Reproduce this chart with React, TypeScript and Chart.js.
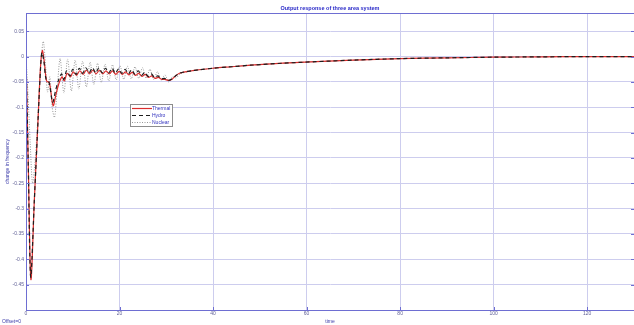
import { useEffect, useRef } from "react";
import { Chart, registerables } from "chart.js";

Chart.register(...registerables);

const chartTitle = "Output response of three area system";
const xLabel = "time";
const yLabel = "change in frequency";
const offsetNote = "Offset=0";

const xTicks = [0, 20, 40, 60, 80, 100, 120];
const yTicks = [0.05, 0, -0.05, -0.1, -0.15, -0.2, -0.25, -0.3, -0.35, -0.4, -0.45];
const xMin = 0;
const xMax = 130;
const yMin = -0.5;
const yMax = 0.086;

const thermalTime = [
  0, 0.5, 1.05, 1.8, 2.6, 3.1, 3.5, 3.9, 4.4, 5.0, 5.8, 6.4, 7.0, 7.7, 8.2, 8.8, 9.5, 10.1, 10.8, 11.5,
  12.2, 12.9, 13.6, 14.3, 15.0, 15.7, 16.4, 17.1, 17.8, 18.5, 19.2, 19.9, 20.6, 21.3, 22.0, 22.7, 23.4,
  24.1, 24.8, 25.5, 26.2, 26.9, 27.6, 28.3, 29.0, 29.7, 30.5, 31.3, 32.0, 32.8, 34, 35.5, 37, 40, 44, 48,
  55, 62, 70, 80, 90, 100, 110, 120, 130,
];
const thermalValue = [
  0, -0.22, -0.44, -0.28, -0.12, -0.02, 0.012, -0.01, -0.048, -0.052, -0.097, -0.075, -0.054, -0.04,
  -0.048, -0.033, -0.04, -0.03, -0.037, -0.028, -0.035, -0.027, -0.034, -0.027, -0.034, -0.027, -0.034,
  -0.028, -0.034, -0.028, -0.035, -0.029, -0.035, -0.03, -0.036, -0.031, -0.037, -0.033, -0.039, -0.035,
  -0.041, -0.038, -0.043, -0.041, -0.045, -0.045, -0.047, -0.044, -0.038, -0.033, -0.03, -0.028, -0.026,
  -0.023, -0.02, -0.017, -0.013, -0.01, -0.007, -0.004, -0.0025, -0.0012, -0.0005, 0, 0,
];

const hydroTime = [
  0, 0.5, 1.0, 1.8, 2.6, 3.1, 3.4, 3.8, 4.3, 4.9, 5.7, 6.3, 6.9, 7.6, 8.1, 8.7, 9.4, 10.0, 10.7, 11.4,
  12.1, 12.8, 13.5, 14.2, 14.9, 15.6, 16.3, 17.0, 17.7, 18.4, 19.1, 19.8, 20.5, 21.2, 21.9, 22.6, 23.3,
  24.0, 24.7, 25.4, 26.1, 26.8, 27.5, 28.2, 28.9, 29.6, 30.4, 31.2, 32.0, 32.8, 34, 35.5, 37, 40, 44, 48,
  55, 62, 70, 80, 90, 100, 110, 120, 130,
];
const hydroValue = [
  0, -0.22, -0.435, -0.28, -0.12, -0.025, 0.008, -0.008, -0.045, -0.05, -0.09, -0.068, -0.048, -0.034,
  -0.045, -0.028, -0.038, -0.025, -0.035, -0.023, -0.033, -0.022, -0.032, -0.022, -0.032, -0.022, -0.032,
  -0.023, -0.032, -0.023, -0.033, -0.024, -0.033, -0.025, -0.034, -0.026, -0.035, -0.028, -0.037, -0.031,
  -0.039, -0.034, -0.041, -0.038, -0.044, -0.043, -0.047, -0.044, -0.038, -0.033, -0.03, -0.028, -0.026,
  -0.023, -0.02, -0.017, -0.013, -0.01, -0.007, -0.004, -0.0025, -0.0012, -0.0005, 0, 0,
];

const nuclearTime = [
  0, 0.4, 0.9, 1.4, 2.0, 2.6, 3.2, 3.7, 4.2, 4.6, 5.1, 5.6, 6.1, 6.7, 7.3, 8.1, 8.9, 9.7, 10.5, 11.3,
  12.1, 12.9, 13.7, 14.5, 15.3, 16.1, 16.9, 17.7, 18.5, 19.3, 20.1, 20.9, 21.7, 22.5, 23.3, 24.1, 24.9,
  25.7, 26.5, 27.3, 28.1, 28.9, 29.7, 30.5, 31.3, 32.1, 33, 35, 37, 40, 44, 48, 55, 62, 70, 80, 90, 100,
  110, 120, 130,
];
const nuclearValue = [
  0, -0.07, -0.17, -0.25, -0.2, -0.11, -0.01, 0.03, -0.02, -0.07, -0.04, -0.1, -0.12, -0.06, -0.004,
  -0.072, -0.005, -0.068, -0.007, -0.064, -0.009, -0.06, -0.011, -0.055, -0.013, -0.051, -0.015, -0.048,
  -0.016, -0.046, -0.018, -0.045, -0.019, -0.044, -0.02, -0.043, -0.022, -0.043, -0.025, -0.045, -0.03,
  -0.047, -0.036, -0.05, -0.04, -0.042, -0.034, -0.029, -0.026, -0.023, -0.02, -0.017, -0.013, -0.01,
  -0.007, -0.004, -0.0025, -0.0012, -0.0005, 0, 0,
];

const seriesNames = ["Thermal", "Hydro", "Nuclear"];

const BLUE = "rgb(40,40,200)";
const AXIS = "rgb(110,110,210)";
const GRID = "rgb(205,205,238)";
const TICK_TXT = "rgb(95,95,150)";

const toPoints = (t: number[], v: number[]) => t.map((x, i) => ({ x, y: v[i] }));

const extrasPlugin = {
  id: "extras",
  afterDraw(chart: any) {
    const { ctx, chartArea } = chart;
    const { left, top, right, bottom } = chartArea;
    ctx.save();
    // frame
    ctx.strokeStyle = AXIS;
    ctx.lineWidth = 1;
    ctx.strokeRect(left + 0.5, top + 0.5, right - left, bottom - top);
    // small inner ticks
    const xs = chart.scales.x;
    const ys = chart.scales.y;
    ctx.beginPath();
    xTicks.forEach((v) => {
      const px = Math.round(xs.getPixelForValue(v)) + 0.5;
      ctx.moveTo(px, bottom);
      ctx.lineTo(px, bottom - 3);
    });
    yTicks.forEach((v) => {
      const py = Math.round(ys.getPixelForValue(v)) + 0.5;
      ctx.moveTo(left, py);
      ctx.lineTo(left + 3, py);
      ctx.moveTo(right, py);
      ctx.lineTo(right - 3, py);
    });
    ctx.stroke();

    // title
    ctx.fillStyle = BLUE;
    ctx.font = "bold 5.5px Arial, 'Liberation Sans', sans-serif";
    ctx.textAlign = "center";
    ctx.textBaseline = "middle";
    ctx.fillText(chartTitle, (left + right) / 2, 8);

    // offset note
    ctx.fillStyle = "rgb(60,60,170)";
    ctx.font = "5px Arial, 'Liberation Sans', sans-serif";
    ctx.textAlign = "left";
    ctx.fillText(offsetNote, 2, 321.5);

    // legend
    const bx = 130;
    const by = 104;
    const bw = 42;
    const bh = 22;
    ctx.fillStyle = "#ffffff";
    ctx.fillRect(bx, by, bw, bh);
    ctx.strokeStyle = "rgb(140,140,140)";
    ctx.lineWidth = 1;
    ctx.strokeRect(bx + 0.5, by + 0.5, bw, bh);
    const ds = chart.data.datasets;
    const rows = [108.5, 115.5, 122.5];
    [0, 1, 2].forEach((i) => {
      const d = ds[i];
      ctx.beginPath();
      ctx.strokeStyle = d.borderColor;
      ctx.lineWidth = d.borderWidth;
      ctx.setLineDash(d.borderDash || []);
      ctx.moveTo(bx + 2, rows[i]);
      ctx.lineTo(bx + 22, rows[i]);
      ctx.stroke();
      ctx.setLineDash([]);
      ctx.fillStyle = "rgb(50,50,190)";
      ctx.font = "5px Arial, 'Liberation Sans', sans-serif";
      ctx.textAlign = "left";
      ctx.textBaseline = "middle";
      ctx.fillText(d.label, bx + 22, rows[i]);
    });
    ctx.restore();
  },
};

export default function App() {
  const ref = useRef<HTMLCanvasElement | null>(null);
  useEffect(() => {
    document.body.style.margin = "0";
    const canvas = ref.current;
    if (!canvas) return;
    const chart = new Chart(canvas, {
      type: "line",
      data: {
        datasets: [
          {
            label: seriesNames[0],
            data: toPoints(thermalTime, thermalValue),
            borderColor: "rgb(220,45,45)",
            borderWidth: 1.2,
            pointRadius: 0,
            tension: 0.3,
            order: 1,
          },
          {
            label: seriesNames[1],
            data: toPoints(hydroTime, hydroValue),
            borderColor: "rgb(30,30,30)",
            borderWidth: 1.2,
            borderDash: [4, 3],
            pointRadius: 0,
            tension: 0.3,
            order: 0,
          },
          {
            label: seriesNames[2],
            data: toPoints(nuclearTime, nuclearValue),
            borderColor: "rgb(150,150,150)",
            borderWidth: 1,
            borderDash: [1, 1.5],
            pointRadius: 0,
            tension: 0.3,
            order: 2,
          },
        ],
      },
      options: {
        animation: false,
        responsive: false,
        parsing: true,
        layout: { padding: { top: 13, right: 0, left: 0, bottom: 0 } },
        plugins: { legend: { display: false }, tooltip: { enabled: false }, title: { display: false } },
        scales: {
          x: {
            type: "linear",
            min: xMin,
            max: xMax,
            afterBuildTicks: (s: any) => {
              s.ticks = xTicks.map((v) => ({ value: v }));
            },
            afterFit: (s: any) => {
              s.height = 15;
            },
            ticks: {
              autoSkip: false,
              maxRotation: 0,
              padding: 1,
              color: TICK_TXT,
              font: { size: 5, family: "Arial, 'Liberation Sans', sans-serif" },
            },
            grid: { color: GRID, drawTicks: false, lineWidth: 1 },
            border: { color: AXIS },
            title: {
              display: true,
              text: xLabel,
              color: "rgb(60,60,170)",
              font: { size: 5, family: "Arial, 'Liberation Sans', sans-serif" },
              padding: { top: 0, bottom: 0 },
            },
          },
          y: {
            type: "linear",
            min: yMin,
            max: yMax,
            afterBuildTicks: (s: any) => {
              s.ticks = yTicks.map((v) => ({ value: v }));
            },
            afterFit: (s: any) => {
              s.width = 26;
            },
            ticks: {
              autoSkip: false,
              padding: 2,
              color: TICK_TXT,
              font: { size: 5, family: "Arial, 'Liberation Sans', sans-serif" },
              callback: (v: any) => String(Number(Number(v).toFixed(2))),
            },
            grid: { color: GRID, drawTicks: false, lineWidth: 1 },
            border: { color: AXIS },
            title: {
              display: true,
              text: yLabel,
              color: "rgb(60,60,170)",
              font: { size: 5, family: "Arial, 'Liberation Sans', sans-serif" },
              padding: { top: 5, bottom: 0 },
            },
          },
        },
      },
      plugins: [extrasPlugin],
    } as any);
    return () => chart.destroy();
  }, []);
  return (
    <div style={{ width: 634, height: 325 }}>
      <canvas ref={ref} width={634} height={325} style={{ display: "block" }} />
    </div>
  );
}
